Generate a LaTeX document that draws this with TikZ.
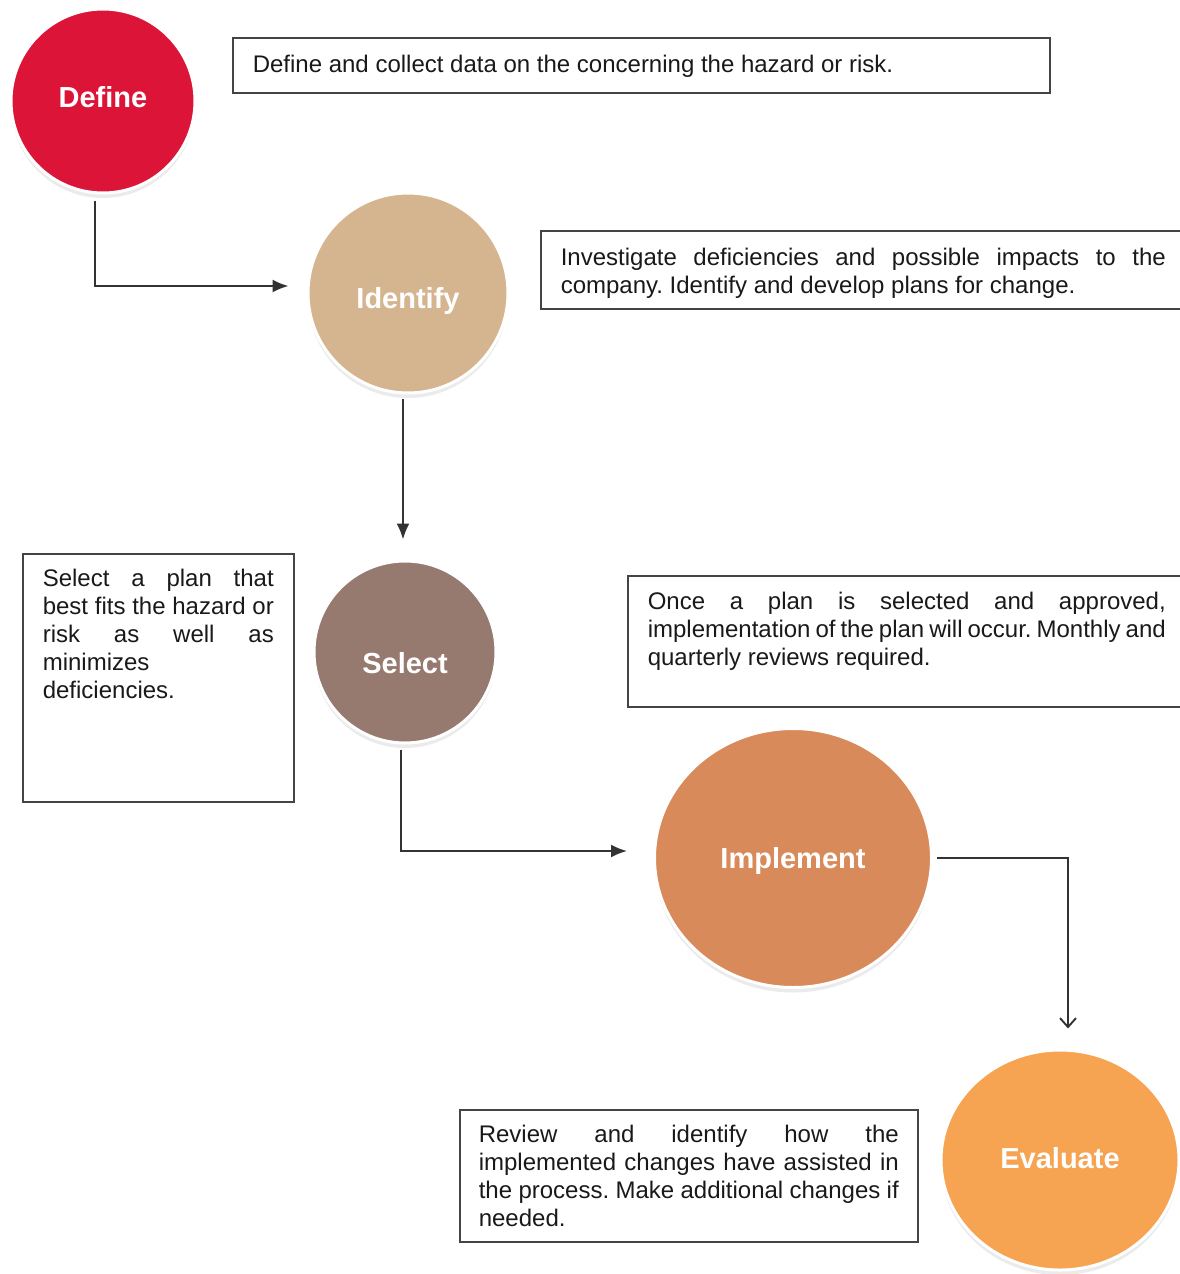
\documentclass[tikz,border=0pt]{standalone}
\usepackage{fontspec}
\setmainfont{Liberation Sans}
\usetikzlibrary{arrows.meta,shapes.geometric,calc}
\frenchspacing
\definecolor{cdef}{HTML}{DC1437}
\definecolor{cidf}{HTML}{D5B58F}
\definecolor{csel}{HTML}{967A70}
\definecolor{cimp}{HTML}{D98A5A}
\definecolor{ceva}{HTML}{F6A352}
\definecolor{linec}{HTML}{333333}
\definecolor{boxc}{HTML}{444444}
\newcommand\jl[2]{\makebox[#1][s]{#2}}
\newcommand\lbl[2]{\raisebox{#1}[0pt][0pt]{#2}}
\tikzset{
  conn/.style={draw=linec, line width=1.9pt},
  ftip/.style={-{Latex[length=16pt,width=13pt]}},
  vtip/.style={-{Straight Barb[length=9pt,width=16pt,line width=1.9pt]}},
  disc/.style={inner sep=0pt, text=white, fill=#1,
    font=\bfseries\fontsize{29}{34}\selectfont, draw=white, line width=3pt,
    preaction={fill=black!8, transform canvas={yshift=-5pt}}},
  tbox/.style={draw=boxc, line width=1.6pt, anchor=north west, inner sep=0pt,
    font=\fontsize{24}{28}\selectfont, text=black!90},
}
\begin{document}
\begin{tikzpicture}[x=1pt,y=-1pt]
\useasboundingbox (0,0) rectangle (1179,1274);
% circles
\node[disc=cdef, circle, minimum size=184pt] (def) at (103,101) {\lbl{-6.5pt}{Define}};
\node[disc=cidf, circle, minimum size=200pt] (idf) at (408,293) {\lbl{-15.5pt}{Identify}};
\node[disc=csel, circle, minimum size=182pt] (sel) at (405,652) {\lbl{-21.5pt}{Select}};
\node[disc=cimp, ellipse, minimum width=277pt, minimum height=259pt] (imp) at (793,858) {\lbl{-10.5pt}{Implement}};
\node[disc=ceva, ellipse, minimum width=238pt, minimum height=220pt] (eva) at (1060,1160) {\lbl{-8.5pt}{Evaluate}};
% text boxes
\node[tbox] (bdef) at (232,37) {\parbox[c][55pt][t]{817pt}{\leftskip=20pt\relax\vspace*{17pt}Define and collect data on the concerning the hazard or risk.}};
\node[tbox] (bidf) at (540,230) {\parbox[c][78pt][t]{642pt}{\leftskip=20pt\relax\vspace*{17pt}\jl{605pt}{Investigate deficiencies and possible impacts to the}\\
company. Identify and develop plans for change.}};
\node[tbox] (bsel) at (22,553) {\parbox[c][248pt][t]{271pt}{\leftskip=20pt\relax\vspace*{15pt}\jl{231pt}{Select a plan that}\\
\jl{231pt}{best fits the hazard or}\\
\jl{231pt}{risk as well as}\\
minimizes\\
deficiencies.}};
\node[tbox] (bimp) at (627,575) {\parbox[c][131pt][t]{555pt}{\leftskip=20pt\relax\vspace*{16pt}\jl{518pt}{Once a plan is selected and approved,}\\
\jl{518pt}{implementation of the plan will occur. Monthly and}\\
quarterly reviews required.}};
\node[tbox] (beva) at (459,1109) {\parbox[c][132pt][t]{458pt}{\leftskip=19pt\relax\vspace*{15pt}\jl{420pt}{Review and identify how the}\\
\jl{420pt}{implemented changes have assisted in}\\
\jl{420pt}{the process. Make additional changes if}\\
needed.}};
% connectors
\draw[conn, ftip] ($(def.south)+(-8,6)$) |- ($(idf.west)+(-18,-7)$);
\draw[conn, ftip] ($(idf.south)+(-5,4)$) -- ($(idf.south |- sel.north)+(-5,-20)$);
\draw[conn, ftip] ($(sel.south)+(-4,5)$) |- ($(imp.west)+(-26,-7)$);
\draw[conn, vtip] ($(imp.east)+(4,0)$) -| ($(eva.north)+(8,-20)$);
\end{tikzpicture}
\end{document}
